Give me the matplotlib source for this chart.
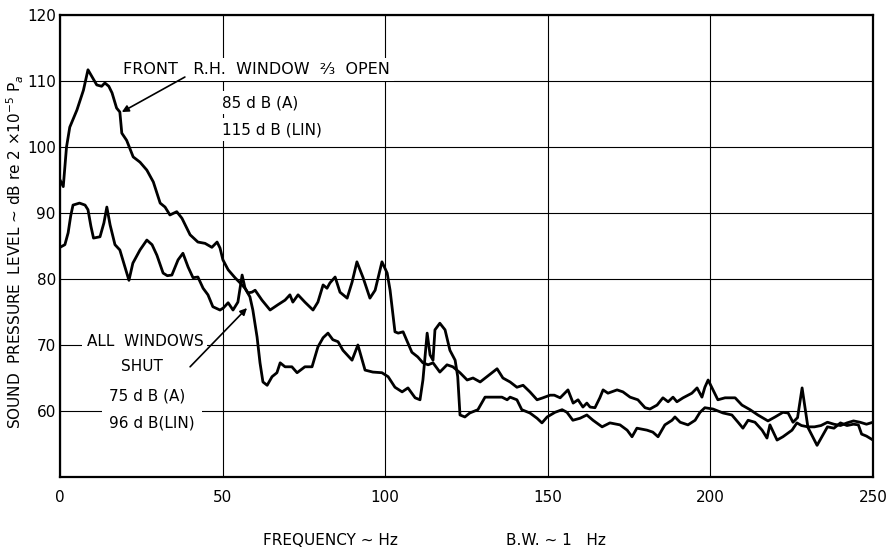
import matplotlib
matplotlib.use('Agg')
import matplotlib.pyplot as plt

# front R.H. window 2/3 open
freq_open = [0, 1, 2, 3, 5.2, 7.2, 8.6, 10, 11.3, 12.8, 13.8, 15, 16, 17.4, 18.4, 19,
             20.5, 22.5, 24.6, 26.7, 28.7, 30.8, 32.3, 33.8, 35.9, 37.5, 40, 42.4,
             44.6, 46.7, 48.3, 49.2, 50.1, 51.7, 53.8, 55.4, 56.9, 57.8, 59, 60, 62.1,
             64.6, 67, 69.2, 70.7, 71.6, 73.2, 75.3, 77.8, 79.3, 80.9, 82.1, 83, 84.6,
             86.1, 88.3, 89.8, 91.3, 93.2, 95.3, 96.9, 99, 100.6, 101.5, 103, 104,
             105.5, 107, 108.2, 110, 111.6, 113.2, 114.7, 116.8, 119, 120.8, 123,
             125.2, 127, 129.2, 131.3, 134.4, 136.2, 138.4, 140.5, 142.4, 144.5,
             146.7, 148.5, 150.7, 152, 153.8, 156.2, 157.8, 159.3, 160.8, 162, 163,
             164.5, 166, 167, 168.5, 171.3, 173.1, 175.3, 177.7, 179.9, 181.4, 183.6,
             185.4, 187, 188.5, 189.7, 191.6, 194.3, 195.9, 197.4, 198.3, 199.3,
             200.8, 202.3, 204.5, 207.6, 209.7, 212.2, 214.6, 217.7, 219.9, 222.3,
             223.9, 225.4, 226.8, 228.2, 230, 232.8, 234.5, 236, 238, 240, 242, 244,
             245.5, 246.5, 248, 250]
spl_open = [95, 94, 100, 103, 105.6, 108.6, 111.7, 110.5, 109.4, 109.2, 109.7, 109.2,
            108.2, 105.9, 105.3, 102.1, 101, 98.5, 97.7, 96.5, 94.7, 91.5, 90.9, 89.7,
            90.2, 89.2, 86.7, 85.6, 85.4, 84.8, 85.6, 84.7, 82.9, 81.4, 80.2, 79.4,
            78.6, 77.9, 78, 78.3, 76.8, 75.3, 76.1, 76.8, 77.6, 76.5, 77.6, 76.5, 75.3,
            76.5, 79.1, 78.6, 79.4, 80.3, 78, 77.1, 79.5, 82.6, 80.2, 77.1, 78.3, 82.6,
            80.9, 78.3, 72, 71.8, 72, 70.3, 68.9, 68.2, 67.3, 67, 67.3, 65.9, 67, 66.7,
            65.8, 64.7, 65, 64.4, 65.2, 66.4, 65, 64.4, 63.6, 63.9, 62.9, 61.7, 62,
            62.4, 62.4, 62, 63.2, 61.2, 61.7, 60.6, 61.2, 60.6, 60.5, 62, 63.2, 62.7,
            63.2, 62.9, 62.1, 61.7, 60.5, 60.3, 60.9, 62, 61.4, 62.1, 61.4, 62, 62.7,
            63.5, 62.1, 63.6, 64.7, 63.2, 61.7, 62, 62, 60.9, 60.2, 59.4, 58.5, 59.1,
            59.8, 59.7, 58.3, 59, 63.5, 57.5, 54.8, 56.3, 57.6, 57.4, 58.2, 57.8, 58,
            57.9, 56.5, 56.2, 55.6]

# all windows shut
freq_shut = [0, 1.5, 2.5, 3.3, 4, 6, 7.7, 8.6, 9.5, 10.3, 12.3, 13.5, 14.4, 15.4, 16.9,
             18.4, 20, 21.2, 22.4, 24.6, 26.7, 28.3, 29.8, 31.7, 33, 34.4, 36.3, 37.8,
             39.4, 40.9, 42.4, 44, 45.5, 47, 49.2, 50.2, 51.7, 53.2, 54.7, 56, 56.9,
             58.4, 59.3, 60.6, 61.5, 62.4, 63.7, 65.2, 66.7, 67.7, 69.2, 71.3, 72.9,
             75.3, 77.5, 79.3, 80.9, 82.4, 83.9, 85.5, 87, 89.8, 91.6, 93.8, 96.2, 99,
             100.9, 103, 105.2, 107, 109.2, 110.7, 111.6, 112.9, 113.8, 114.7, 115.3,
             116.8, 118.4, 119.9, 121.5, 122.3, 123, 124.5, 126, 128.5, 130.7, 133.1,
             135.9, 137.5, 138.4, 140.5, 142, 144.5, 146.7, 148.2, 149.8, 152.2, 154.4,
             155.9, 157.7, 159.9, 162, 163.9, 166.7, 169.1, 172.2, 174.4, 175.9, 177.4,
             180.5, 182.3, 183.9, 186, 188.2, 189.1, 190.7, 193.1, 195.3, 196.8, 198.3,
             200.8, 203.9, 206.6, 208.5, 210, 211.6, 213.7, 215.9, 217.4, 218.3, 220.5,
             222.3, 225.1, 226.6, 228, 230, 232, 234, 236, 238, 240, 242, 244, 246,
             248, 250]
spl_shut = [84.8, 85.2, 87, 89.6, 91.2, 91.5, 91.2, 90.5, 88, 86.2, 86.4, 88.5, 90.9,
            88.2, 85.2, 84.4, 81.8, 79.8, 82.4, 84.4, 85.9, 85.2, 83.6, 80.9, 80.5,
            80.6, 82.9, 83.9, 81.8, 80.2, 80.3, 78.6, 77.6, 75.8, 75.3, 75.6, 76.4,
            75.3, 76.5, 80.6, 78.6, 77.3, 75.3, 71.2, 67.3, 64.4, 63.9, 65.2, 65.8,
            67.3, 66.7, 66.7, 65.8, 66.7, 66.7, 69.7, 71.1, 71.8, 70.8, 70.5, 69.2,
            67.7, 70, 66.2, 65.9, 65.8, 65.2, 63.6, 62.9, 63.5, 62, 61.7, 64.7, 71.8,
            68.5, 67.7, 72.3, 73.3, 72.3, 69.2, 67.7, 65.2, 59.4, 59.1, 59.7, 60.2,
            62.1, 62.1, 62.1, 61.7, 62.1, 61.7, 60.2, 59.7, 58.9, 58.2, 59.1, 59.8,
            60.2, 59.8, 58.6, 58.9, 59.4, 58.6, 57.6, 58.2, 57.9, 57.1, 56.1, 57.4,
            57.1, 56.8, 56.1, 57.9, 58.6, 59.1, 58.3, 57.9, 58.6, 59.8, 60.5, 60.3,
            59.7, 59.4, 58.3, 57.4, 58.6, 58.3, 57.1, 55.9, 57.9, 55.6, 56.1, 57.1,
            58.2, 57.8, 57.6, 57.6, 57.8, 58.3, 58, 57.8, 58.2, 58.5, 58.3, 58, 58.3]

x_ticks = [0, 50, 100, 150, 200, 250]
y_ticks = [60, 70, 80, 90, 100, 110, 120]

fig = plt.figure(figsize=(8.93, 5.53), dpi=100)
ax = fig.add_axes([0.0672, 0.1374, 0.9104, 0.8355])

ax.plot(freq_open, spl_open, color='black', lw=2, zorder=2)
ax.plot(freq_shut, spl_shut, color='black', lw=2, zorder=2)

ax.set_xlim(0, 250)
ax.set_ylim(50, 120)
ax.set_xticks(x_ticks)
ax.set_yticks(y_ticks)
ax.grid(True, color='black', lw=0.8, zorder=1)
ax.set_axisbelow(True)
ax.tick_params(length=0, labelsize=11)
ax.tick_params(axis='x', pad=9)
ax.tick_params(axis='y', pad=3)
for s in ax.spines.values():
    s.set_linewidth(1.6)

box = dict(fc='white', ec='none', pad=3)
ax.text(19.5, 111.7, 'FRONT   R.H.  WINDOW  ²⁄₃  OPEN', fontsize=11.5,
        ha='left', va='center', bbox=box, zorder=3)
ax.text(49.8, 106.7, '85 d B (A)', fontsize=11, ha='left', va='center',
        bbox=box, zorder=3)
ax.text(49.8, 102.6, '115 d B (LIN)', fontsize=11, ha='left', va='center',
        bbox=box, zorder=3)
ax.annotate('', xy=(19, 105.3), xytext=(38.4, 110.6),
            arrowprops=dict(arrowstyle='-|>', color='black', lw=1.2,
                            mutation_scale=10, shrinkA=0, shrinkB=0))

ax.text(26.1, 70.5, 'ALL  WINDOWS', fontsize=11, ha='center', va='center',
        bbox=box, zorder=3)
ax.text(25.2, 66.7, 'SHUT', fontsize=11, ha='center', va='center', zorder=3)
ax.text(26.8, 62.3, '75 d B (A)', fontsize=11, ha='center', va='center', zorder=3)
ax.text(28.3, 58.2, '96 d B(LIN)', fontsize=11, ha='center', va='center',
        bbox=dict(fc='white', ec='none', pad=5), zorder=3)
ax.annotate('', xy=(57.5, 75.6), xytext=(40, 66.7),
            arrowprops=dict(arrowstyle='-|>', color='black', lw=1.2,
                            mutation_scale=10, shrinkA=0, shrinkB=0))

fig.text(0.017, 0.545, 'SOUND  PRESSURE  LEVEL ~ dB re 2 ×10$^{-5}$ P$_a$',
         rotation=90, ha='center', va='center', fontsize=11)
fig.text(0.37, 0.022, 'FREQUENCY ~ Hz', ha='center', va='center', fontsize=11)
fig.text(0.622, 0.022, 'B.W. ~ 1   Hz', ha='center', va='center', fontsize=11)

fig.savefig('out.png', dpi=100)
